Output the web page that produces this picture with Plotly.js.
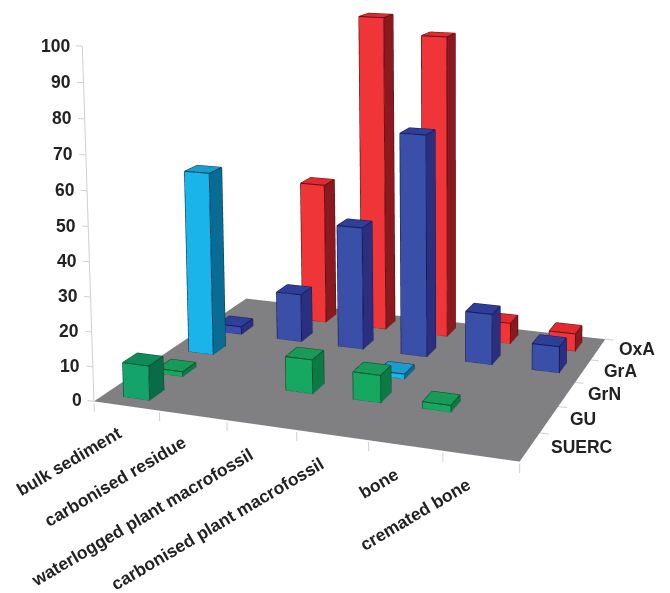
<!DOCTYPE html><html><head><script src="https://cdn.plot.ly/plotly-3.0.0.min.js"></script></head><body style="margin:0;background:#fff;overflow:hidden">
<div style="position:absolute;left:0;top:0;width:670px;height:593px;overflow:hidden"><div id="g" style="position:absolute"></div></div>
<script>
var categories=['bulk sediment','carbonised residue','waterlogged plant macrofossil','carbonised plant macrofossil','bone','cremated bone'];
var seriesNames=['SUERC','GU','GrN','GrA','OxA'];
var SUERC=[10,0,0,0,0,0];
var GU=[1.5,0,10,8,2,0];
var GrN=[56,0,0,1.5,0,0];
var GrA=[2.5,15,38,68,15.5,8];
var OxA=[0,45,99.5,94.5,6.5,5.5];
var zTicks=[0,10,20,30,40,50,60,70,80,90,100];
var XR=[-0.2,6.2],YR=[-0.3,5.3],ZR=[-6,101];
var W=0.40,D=0.42;
var P={ex:2.5075,ey:-6.0705,ez:1.7822,cx:0.4440,cy:0.0859,cz:0.9358,ax:1.9979,ay:1.5943,az:1.6246,H:1.2652,px:0.4637,py:0.0020};
var H=Math.round(P.H*1000),ppx=P.px*1000,ppy=P.py*1000;var Wd=Math.ceil(2*Math.max(ppx,670-ppx,1)),L=ppx-Wd/2,Tp=ppy-H/2;
var gd=document.getElementById('g');gd.style.left=L+'px';gd.style.top=Tp+'px';gd.style.width=Wd+'px';gd.style.height=H+'px';
var pal=[{f:'#14a36b',s:'#0a6b47',t:'#0f8a58',e:'#064a30'},{f:'#16a860',s:'#0b7a45',t:'#1a9a58',e:'#064a2c'},{f:'#1ab4ea',s:'#0a6c94',t:'#1a9ccc',e:'#063a55'},{f:'#3a4fa8',s:'#2a2f80',t:'#2f3f98',e:'#141a55'},{f:'#f03538',s:'#8a1a20',t:'#e02a30',e:'#5a0f12'}];
var all=[SUERC,GU,GrN,GrA,OxA];var traces=[];var LT={ambient:1,diffuse:0,specular:0,fresnel:0,roughness:1};
traces.push({type:'mesh3d',x:[0,6,6,0],y:[0,0,5,5],z:[0,0,0,0],i:[0,0],j:[1,2],k:[2,3],facecolor:['#808083','#808083'],flatshading:true,lighting:LT,hoverinfo:'skip'});
all.forEach(function(vals,r){var x=[],y=[],z=[],I=[],J=[],K=[],fc=[],lx=[],ly=[],lz=[];var c=pal[r];
 vals.forEach(function(v,i){if(!v)return;var a=i+.5-W/2,b=i+.5+W/2,p=r+.5-D/2,q=r+.5+D/2,n=x.length;
  [[a,p,0],[b,p,0],[b,q,0],[a,q,0],[a,p,v],[b,p,v],[b,q,v],[a,q,v]].forEach(function(m){x.push(m[0]);y.push(m[1]);z.push(m[2]);});
  [[0,1,5,c.f],[0,5,4,c.f],[1,2,6,c.s],[1,6,5,c.s],[4,5,6,c.t],[4,6,7,c.t],[3,2,6,c.s],[3,6,7,c.s],[0,3,7,c.s],[0,7,4,c.s]].forEach(function(t){I.push(n+t[0]);J.push(n+t[1]);K.push(n+t[2]);fc.push(t[3]);});
  [[0,1],[1,2],[0,4],[1,5],[2,6],[4,5],[5,6],[6,7],[7,4]].forEach(function(g){lx.push(x[n+g[0]],x[n+g[1]],null);ly.push(y[n+g[0]],y[n+g[1]],null);lz.push(z[n+g[0]],z[n+g[1]],null);});
 });
 traces.push({type:'mesh3d',name:seriesNames[r],x:x,y:y,z:z,i:I,j:J,k:K,facecolor:fc,flatshading:true,lighting:LT,hoverinfo:'skip'});
 traces.push({type:'scatter3d',mode:'lines',x:lx,y:ly,z:lz,line:{color:c.e,width:2},hoverinfo:'skip',showlegend:false});
});
var ax=[],ay=[],az=[];
ax.push(0,0,null);ay.push(0,0,null);az.push(0,100,null);
zTicks.forEach(function(v){ax.push(-0.1,0,null);ay.push(0,0,null);az.push(v,v,null);});
categories.forEach(function(_,i){ax.push(i,i,null);ay.push(0,0,null);az.push(-0.5,-3,null);});ax.push(6,6,null);ay.push(0,0,null);az.push(-0.5,-3,null);
seriesNames.forEach(function(_,j){ax.push(6,6.12,null);ay.push(j+1,j+1,null);az.push(0,0,null);});
traces.push({type:'scatter3d',mode:'lines',x:ax,y:ay,z:az,line:{color:'#cfcfcf',width:2},hoverinfo:'skip',showlegend:false});
var F={family:'Liberation Sans, Arial',size:17.5,color:'#222'};var fb=function(t){return '<b>'+t+'</b>';};
var ann=[];
zTicks.forEach(function(v){ann.push({x:-0.1,y:0,z:v,text:fb(v),showarrow:false,xanchor:'right',xshift:-4,font:F});});
var cs=[[-57,-55],[-77,-66],[-119,-92],[-115,-89],[-26,-38],[-65,-58]];
categories.forEach(function(c,i){ann.push({x:i+.5,y:0,z:0,text:fb(c),showarrow:false,textangle:-30.5,xshift:cs[i][0],yshift:cs[i][1],font:F});});
seriesNames.forEach(function(n,j){ann.push({x:6,y:j+.5,z:0,text:fb(n),showarrow:false,xanchor:'left',xshift:19,font:F});});
var layout={width:Wd,height:H,margin:{l:0,r:0,t:0,b:0},paper_bgcolor:'#fff',showlegend:false,scene:{domain:{x:[0,1],y:[0,1]},aspectmode:'manual',aspectratio:{x:P.ax,y:P.ay,z:P.az},camera:{eye:{x:P.ex,y:P.ey,z:P.ez},center:{x:P.cx,y:P.cy,z:P.cz},up:{x:0,y:0,z:1}},xaxis:{range:XR,visible:false},yaxis:{range:YR,visible:false},zaxis:{range:ZR,visible:false},annotations:ann}};
Plotly.newPlot('g',traces,layout,{displayModeBar:false});
</script></body></html>
